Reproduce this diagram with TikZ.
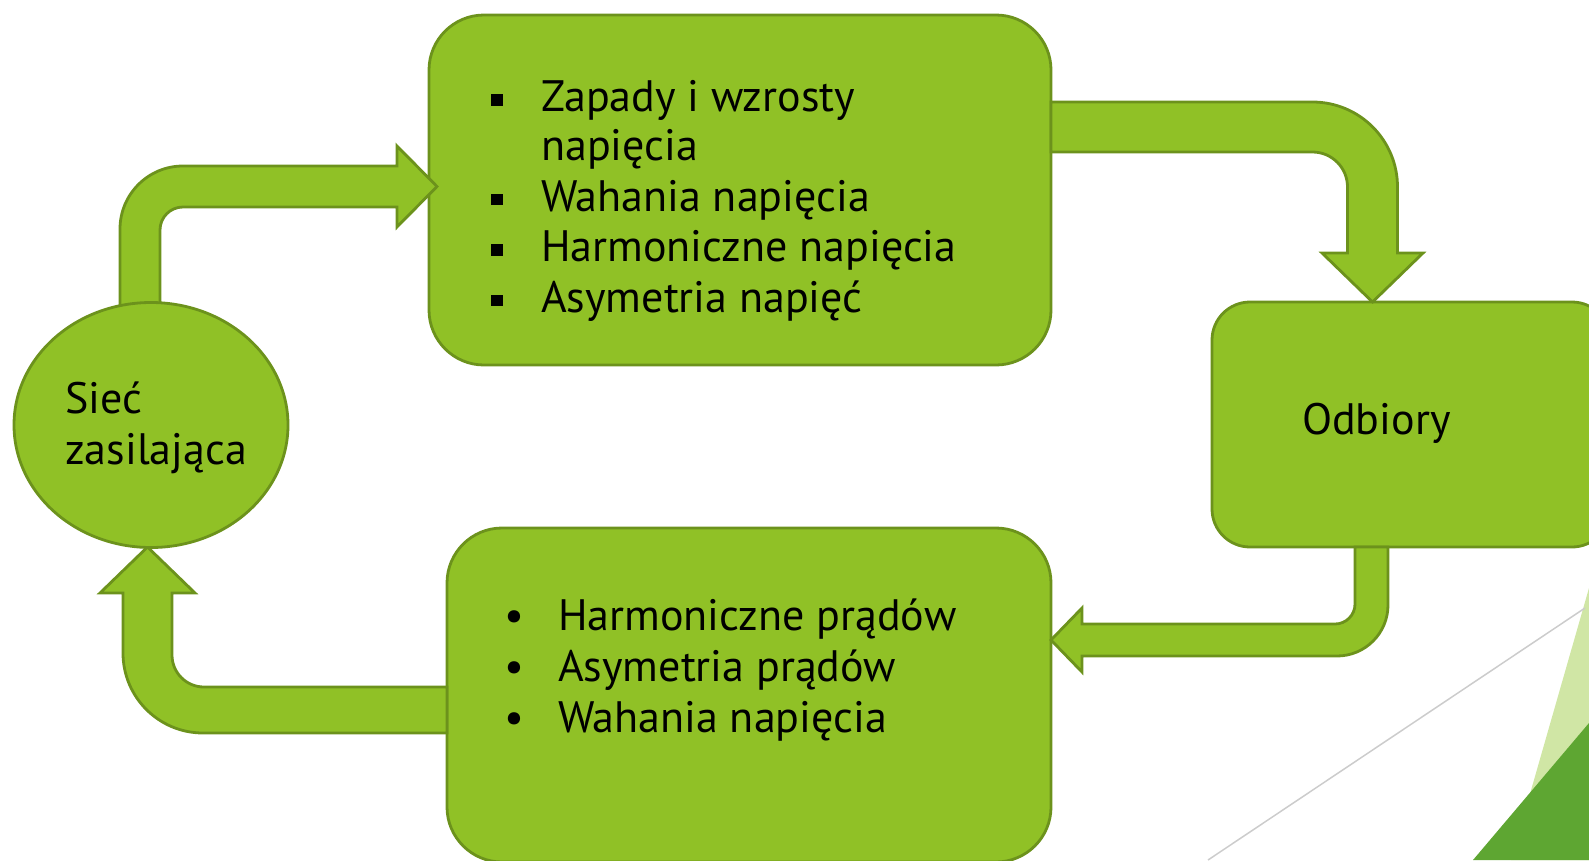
\documentclass[tikz,border=0pt]{standalone}
\usepackage{fontspec}
\usetikzlibrary{shapes.geometric}
\setmainfont{PT Sans}
\definecolor{gfill}{RGB}{144,193,38}
\definecolor{gborder}{RGB}{108,146,28}
\definecolor{lightdeco}{RGB}{208,230,165}
\definecolor{darkdeco}{RGB}{94,166,50}
\newcommand{\sqbul}{\rule[6pt]{11.5pt}{11.5pt}}
\begin{document}
\begin{tikzpicture}[x=1pt,y=-1pt,
  box/.style={draw=gborder, fill=gfill, line width=2.8pt, rounded corners=55pt, inner sep=0pt},
  arr/.style={draw=gborder, fill=gfill, line width=2.8pt, line join=miter},
  lbl/.style={anchor=base west, inner sep=0pt, font=\fontsize{44}{50.7}\selectfont}]
\useasboundingbox (0,0) rectangle (1589,860);
\clip (0,0) rectangle (1589,860);

% background decoration
\fill[lightdeco] (1589,588) -- (1511,860) -- (1589,860) -- cycle;
\fill[darkdeco] (1589,723) -- (1473,860) -- (1589,860) -- cycle;
\draw[black!20, line width=1.5pt] (1208,860) -- (1585,608);

% boxes
\node[box, minimum width=622pt, minimum height=350pt] (top) at (740,190) {};
\node[box, minimum width=604pt, minimum height=334pt] (bot) at (749,695) {};
\node[box, rounded corners=38pt, minimum width=398pt, minimum height=245pt] (odb) at (1411,424.5) {};

% arrows
\filldraw[arr] (120,330) -- (120,229) arc[start angle=180, end angle=90, radius=63pt]
  -- (397,166) -- (397,146) -- (437,186.5) -- (397,227) -- (397,207) -- (183,207)
  arc[start angle=90, end angle=180, radius=23pt] -- (160,330) -- cycle;
\filldraw[arr] (1051,102) -- (1312.5,102) arc[start angle=90, end angle=0, radius=85pt]
  -- (1397.5,253) -- (1423,253) -- (1372.5,302) -- (1322,253) -- (1347.5,253) -- (1347.5,187)
  arc[start angle=0, end angle=90, radius=35pt] -- (1051,152) -- cycle;
\filldraw[arr] (1355,547) -- (1355,604) arc[start angle=0, end angle=-90, radius=20pt]
  -- (1082,624) -- (1082,608) -- (1051,640) -- (1082,672) -- (1082,656) -- (1337,656)
  arc[start angle=-90, end angle=0, radius=51pt] -- (1388,547) -- cycle;
\filldraw[arr] (447,687) -- (204,687) arc[start angle=270, end angle=180, radius=32pt]
  -- (172,593) -- (195,593) -- (147.5,547) -- (100,593) -- (123,593) -- (123,653)
  arc[start angle=180, end angle=270, radius=80pt] -- (447,733) -- cycle;

\node[draw=gborder, fill=gfill, line width=2.8pt, ellipse, minimum width=274pt, minimum height=245pt, inner sep=0pt] (siec) at (151,425) {};

% texts
\node[lbl] (s1) at (65,413) {Sieć};
\node[lbl] (s2) at (65,464) {zasilająca};
\node[lbl] (o1) at (1302,434) {Odbiory};

\node[lbl] (b1) at (491,111.5) {\sqbul};
\node[lbl] (t1) at (541,111.5) {Zapady i wzrosty};
\node[lbl] (t2) at (541,160) {napięcia};
\node[lbl] (b2) at (491,211) {\sqbul};
\node[lbl] (t3) at (541,211) {Wahania napięcia};
\node[lbl] (b3) at (491,261.5) {\sqbul};
\node[lbl] (t4) at (541,261.5) {Harmoniczne napięcia};
\node[lbl] (b4) at (491,312) {\sqbul};
\node[lbl] (t5) at (541,312) {Asymetria napięć};

\node[lbl] (c1) at (504,630) {•};
\node[lbl] (u1) at (558,630) {Harmoniczne prądów};
\node[lbl] (c2) at (504,681) {•};
\node[lbl] (u2) at (558,681) {Asymetria prądów};
\node[lbl] (c3) at (504,732) {•};
\node[lbl] (u3) at (558,732) {Wahania napięcia};
\end{tikzpicture}
\end{document}
